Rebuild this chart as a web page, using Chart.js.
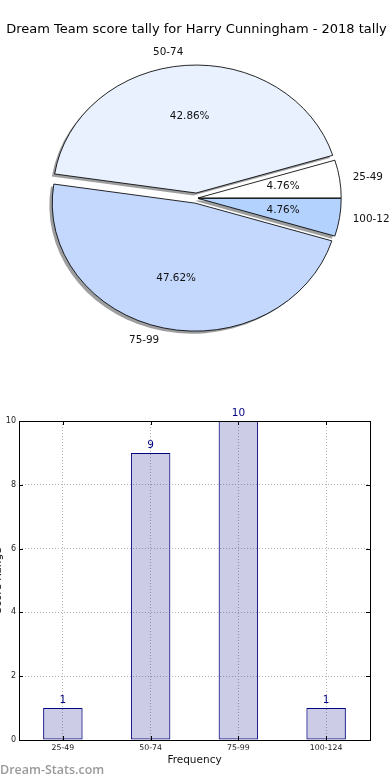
<!DOCTYPE html>
<html>
<head>
<meta charset="utf-8">
<title>Dream Team score tally</title>
<script src="https://cdn.jsdelivr.net/npm/chart.js@4.4.1/dist/chart.umd.min.js"></script>
<style>
  html, body { margin: 0; padding: 0; background: #fff; }
  body { width: 390px; height: 780px; position: relative; overflow: hidden; }
  #pieChart { position: absolute; left: 0; top: 0; }
  #barChart { position: absolute; left: 0; top: 390px; }
  #watermark { position: absolute; left: 0; top: 761px; font: 600 12.5px "Open Sans", sans-serif; color: #9a9a9a; }
</style>
</head>
<body>
<canvas id="pieChart" width="390" height="390"></canvas>
<canvas id="barChart" width="390" height="390"></canvas>
<div id="watermark">Dream-Stats.com</div>
<script>
const chartTitle = 'Dream Team score tally for Harry Cunningham - 2018 tally';
const scoreBands = ['25-49', '50-74', '75-99', '100-124'];
const tallyCounts = [1, 9, 10, 1];
const yTickValues = [0, 2, 4, 6, 8, 10];

const FONT = '"DejaVu Sans", sans-serif';

// pie look (matplotlib style: ellipse, exploded, shadowed)
const pieColours = ['#ffffff', '#e9f0fe', '#c4d8fe', '#b3d3fe'];
const pieExplode = [0.012, 0.04, 0.04, 0.012]; // fraction of radius
const PIE_RADIUS = 128;
const STRETCH_X = 143 / 128;

// matplotlib goes counter-clockwise from 3 o'clock, Chart.js clockwise -> reverse order
const rev = a => a.slice().reverse();
const explodeRev = rev(pieExplode);

function shiftFor(arc, i) {
    const mid = (arc.startAngle + arc.endAngle) / 2;
    const e = explodeRev[i] * arc.outerRadius;
    return { dx: Math.cos(mid) * e, dy: Math.sin(mid) * e };
}

const ellipsePie = {
    id: 'ellipsePie',
    beforeDatasetDraw(chart, args) {
        const ctx = chart.ctx;
        const arcs = args.meta.data;
        const cx = arcs[0].x, cy = arcs[0].y;
        ctx.save();
        ctx.translate(cx, cy);
        ctx.scale(STRETCH_X, 1);
        ctx.translate(-cx, -cy);
        // shadows underneath everything
        arcs.forEach((arc, i) => {
            const p = shiftFor(arc, i);
            const r = arc.outerRadius;
            const sx = cx + p.dx - 0.02 * r, sy = cy + p.dy + 0.02 * r;
            ctx.beginPath();
            ctx.moveTo(sx, sy);
            ctx.arc(sx, sy, r, arc.startAngle, arc.endAngle);
            ctx.closePath();
            ctx.fillStyle = 'rgba(60,62,66,0.5)';
            ctx.fill();
        });
        arcs.forEach((arc, i) => {
            const p = shiftFor(arc, i);
            ctx.save();
            ctx.translate(p.dx, p.dy);
            arc.draw(ctx);
            ctx.restore();
        });
        ctx.restore();
        return false;
    },
    afterDatasetsDraw(chart) {
        const ctx = chart.ctx;
        const meta = chart.getDatasetMeta(0);
        const data = chart.data.datasets[0].data;
        const labels = chart.data.labels;
        const total = data.reduce((a, b) => a + b, 0);
        ctx.save();
        ctx.font = '10.4px ' + FONT;
        ctx.fillStyle = '#111';
        ctx.textBaseline = 'middle';
        meta.data.forEach((arc, i) => {
            const mid = (arc.startAngle + arc.endAngle) / 2;
            const r = arc.outerRadius;
            const e = explodeRev[i] * r;
            const px = f => arc.x + Math.cos(mid) * (f * r + e) * STRETCH_X;
            const py = f => arc.y + Math.sin(mid) * (f * r + e);
            ctx.textAlign = Math.cos(mid) >= 0 ? 'left' : 'right';
            ctx.fillText(labels[i], px(1.1) - 1, py(1.1));
            ctx.textAlign = 'center';
            ctx.fillText((data[i] / total * 100).toFixed(2) + '%', px(0.6), py(0.6));
        });
        ctx.restore();
    }
};

new Chart(document.getElementById('pieChart'), {
    type: 'pie',
    data: {
        labels: rev(scoreBands),
        datasets: [{
            data: rev(tallyCounts),
            backgroundColor: rev(pieColours),
            borderColor: '#000',
            borderWidth: 0.8,
            clip: false
        }]
    },
    options: {
        responsive: false,
        animation: false,
        rotation: 90,
        radius: PIE_RADIUS,
        layout: { padding: { left: 3, right: 0, top: 0, bottom: 31.5 } },
        plugins: {
            legend: { display: false },
            tooltip: { enabled: false },
            title: {
                display: true,
                text: chartTitle,
                color: '#000',
                font: { family: FONT, size: 13, weight: 'normal' },
                padding: { top: 22.2, bottom: 0 }
            }
        }
    },
    plugins: [ellipsePie]
});

// box + inward tick marks like matplotlib, plus counts over the bars
const frameBox = {
    id: 'frameBox',
    afterDatasetsDraw(chart) {
        const { ctx, chartArea: a, scales } = chart;
        ctx.save();
        ctx.strokeStyle = '#000';
        ctx.lineWidth = 1;
        ctx.strokeRect(Math.round(a.left) + 0.5, Math.round(a.top) + 0.5,
            Math.round(a.right - a.left), Math.round(a.bottom - a.top));
        ctx.beginPath();
        scales.y.ticks.forEach(t => {
            const y = Math.round(scales.y.getPixelForValue(t.value)) + 0.5;
            ctx.moveTo(a.left, y); ctx.lineTo(a.left + 4, y);
            ctx.moveTo(a.right, y); ctx.lineTo(a.right - 4, y);
        });
        scales.x.ticks.forEach((t, i) => {
            const x = Math.round(scales.x.getPixelForTick(i)) + 0.5;
            ctx.moveTo(x, a.bottom); ctx.lineTo(x, a.bottom - 4);
            ctx.moveTo(x, a.top); ctx.lineTo(x, a.top + 4);
        });
        ctx.stroke();
        const meta = chart.getDatasetMeta(0);
        const vals = chart.data.datasets[0].data;
        ctx.font = '10.5px ' + FONT;
        ctx.fillStyle = '#000080';
        ctx.textAlign = 'center';
        ctx.textBaseline = 'alphabetic';
        meta.data.forEach((bar, i) => {
            ctx.fillText(String(vals[i]), bar.x, bar.y - 5);
        });
        ctx.restore();
    }
};

new Chart(document.getElementById('barChart'), {
    type: 'bar',
    data: {
        labels: scoreBands,
        datasets: [{
            data: tallyCounts,
            backgroundColor: 'rgba(0, 0, 128, 0.2)',
            borderColor: '#000080',
            borderWidth: 1,
            borderSkipped: false,
            categoryPercentage: 1,
            barPercentage: 0.45
        }]
    },
    options: {
        responsive: false,
        animation: false,
        layout: { padding: { top: 31, right: 20, left: 0, bottom: 0 } },
        plugins: {
            legend: { display: false },
            tooltip: { enabled: false }
        },
        scales: {
            x: {
                offset: true,
                grid: { offset: false, color: '#b4b4b4', lineWidth: 1, drawTicks: false },
                border: { display: false, dash: [1, 2] },
                ticks: { color: '#222', padding: 3, font: { family: FONT, size: 7.8 } },
                title: {
                    display: true,
                    text: 'Frequency',
                    color: '#111',
                    font: { family: FONT, size: 10.5 },
                    padding: { top: 0, bottom: 13.7 }
                },
                afterFit: s => { s.height = 40; }
            },
            y: {
                min: yTickValues[0],
                max: yTickValues[yTickValues.length - 1],
                grid: { color: '#b4b4b4', lineWidth: 1, drawTicks: false },
                border: { display: false, dash: [1, 2] },
                ticks: {
                    stepSize: yTickValues[1] - yTickValues[0],
                    color: '#222',
                    padding: 3,
                    font: { family: FONT, size: 8 }
                },
                title: {
                    display: true,
                    text: 'Score Range',
                    color: '#111',
                    font: { family: FONT, size: 10.5 },
                    padding: { top: -8.5, bottom: 0 }
                },
                afterFit: s => { s.width = 19; }
            }
        }
    },
    plugins: [frameBox]
});
</script>
</body>
</html>
